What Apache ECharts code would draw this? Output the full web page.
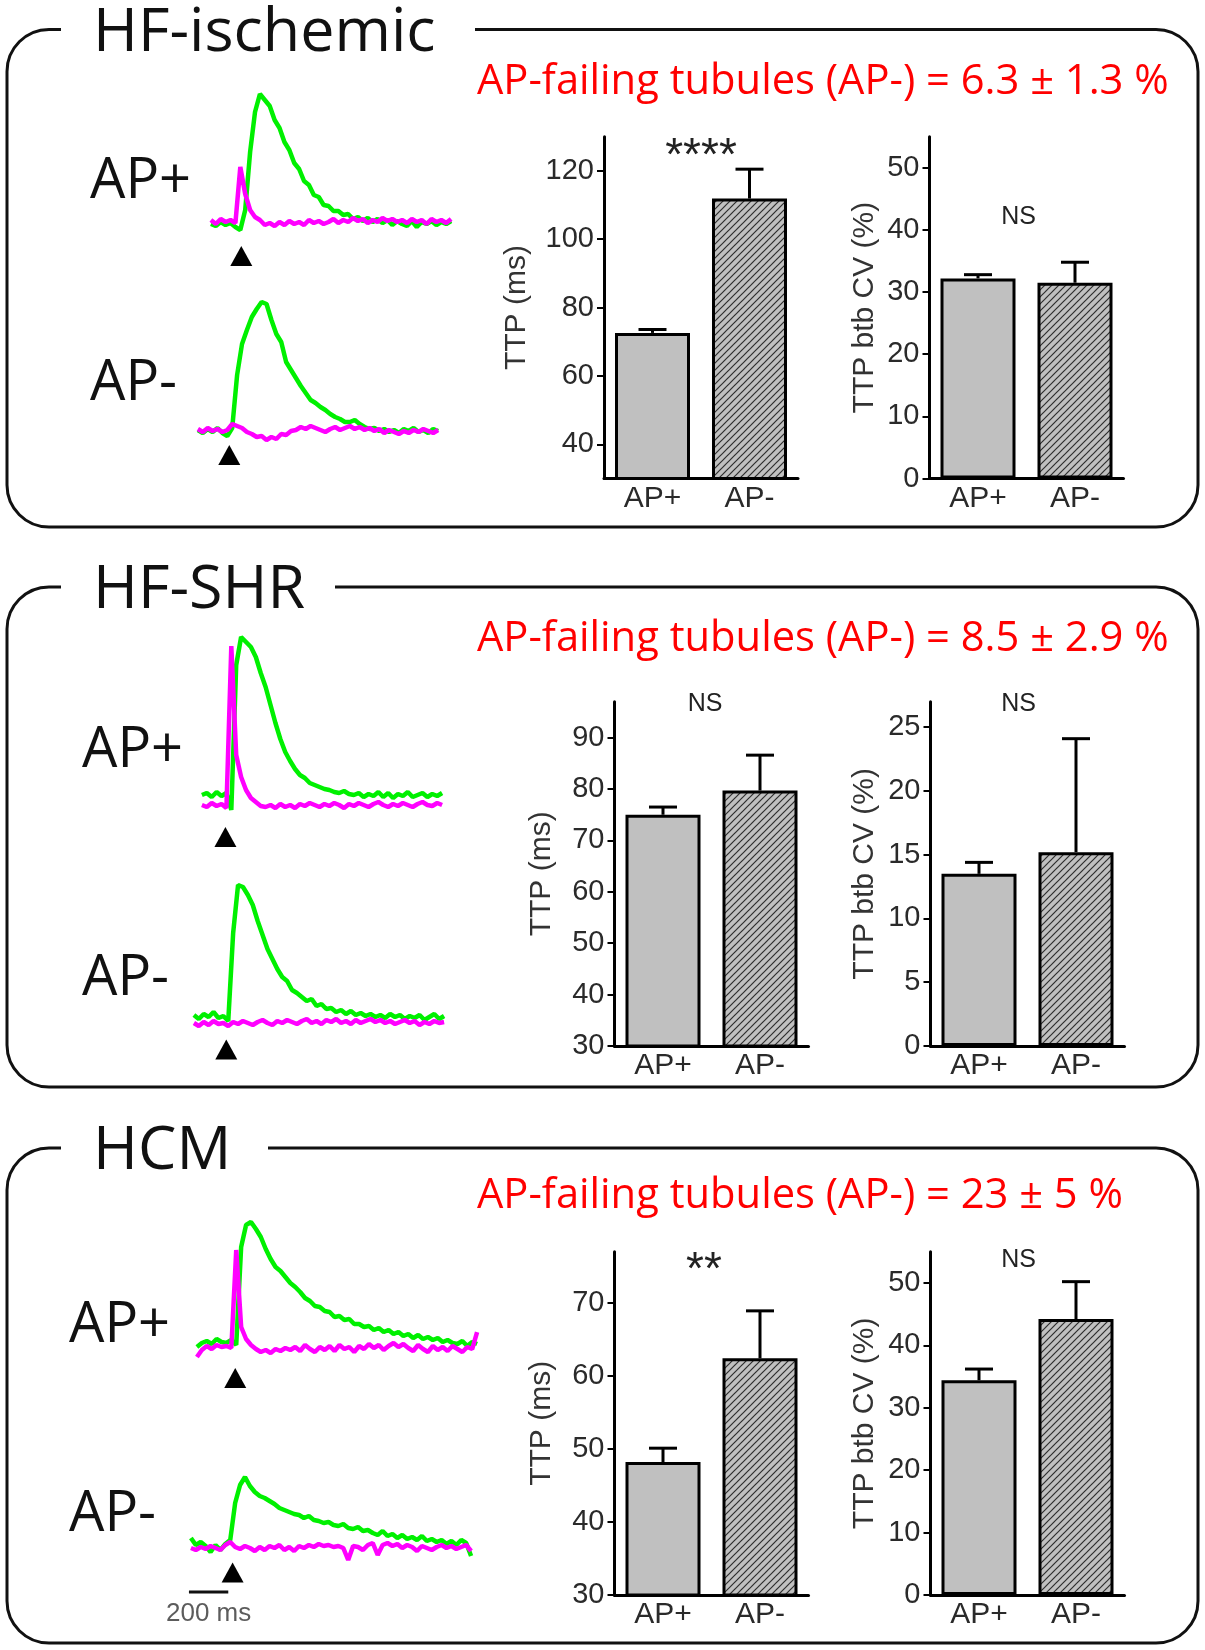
<!DOCTYPE html>
<html><head><meta charset="utf-8">
<script src="https://cdn.jsdelivr.net/npm/echarts@6/dist/echarts.min.js"></script>
<style>html,body{margin:0;padding:0;background:#fff}#c{width:1205px;height:1650px}</style>
</head><body><div id="c"></div>
<script>
// ---------------- DATA ----------------
const categories = ['AP+', 'AP-'];
const panelNames = ['HF-ischemic', 'HF-SHR', 'HCM'];
const failingPct = ['6.3 ± 1.3', '8.5 ± 2.9', '23 ± 5'];

const ttpMean = [[72.6, 111.9], [75.0, 79.7], [48.2, 62.4]];
const ttpSem  = [[1.0, 8.6], [1.5, 6.9], [1.9, 6.5]];
const cvMean  = [[32.2, 31.5], [13.5, 15.2], [34.4, 44.2]];
const cvSem   = [[0.6, 3.3], [0.9, 8.9], [1.8, 6.0]];
const ttpSig  = ['****', 'NS', '**'];
const cvSig   = ['NS', 'NS', 'NS'];

const ttpTicks = [[40, 60, 80, 100, 120], [30, 40, 50, 60, 70, 80, 90], [30, 40, 50, 60, 70]];
const cvTicks  = [[0, 10, 20, 30, 40, 50], [0, 5, 10, 15, 20, 25], [0, 10, 20, 30, 40, 50]];
const ttpRange = [[30, 130], [30, 97], [30, 77]];
const cvRange  = [[0, 55], [0, 27], [0, 55]];

// traces: sampled every 25 ms, amplitude in arbitrary units (0 = AP-signal baseline)
const SAMPLE_MS = 25;
const p1PlusCa = [-2,-4,0,-3,-1,-5,-8,12,70,110, 128,122,116,102,94,80,72,59,53,41, 37,27,25,17,16,11,11,7,8,3, 5,1,4,0,3,-1,2,-3,1,-2, -4,1,-5,0,-2,1,-3,0,-2,1];
const p1PlusAp = [2,-2,3,0,2,-1,55,28,12,5, 2,-3,-1,-4,0,-3,1,-2,0,-3, 2,-1,1,-2,0,3,-1,2,0,4, 1,3,-1,2,0,4,1,3,0,2, -1,3,0,2,-2,3,0,2,-1,3];
const p1MinusCa = [0,-3,1,-2,2,-3,-6,2,55,86, 100,113,121,128,126,110,96,88,68,60, 52,44,37,30,27,23,20,16,13,11, 8,8,10,6,3,1,2,-1,1,-2, 0,-3,1,-1,2,-2,0,-3,1,-1];
const p1MinusAp = [1,-2,2,-1,1,-2,0,6,4,2, -2,-4,-7,-6,-10,-7,-9,-4,-5,-1, 0,3,1,4,2,0,-2,1,3,0, 2,4,1,3,0,2,-1,1,-3,0, -2,-4,-1,-3,0,-2,1,-1,-3,0];
const p2PlusCa = [10,12,8,13,9,12,-5,140,168,163, 158,148,132,118,100,82,66,53,44,36, 30,27,22,20,18,16,15,13,12,14, 11,10,12,8,11,9,13,8,12,7, 11,9,13,8,10,12,8,11,9,12];
const p2PlusAp = [0,-2,2,-1,1,-3,159,50,28,15, 7,3,-1,-2,0,-3,1,-2,0,-3, 1,-1,2,0,-2,1,-1,2,0,-3, 1,-1,2,0,-2,1,3,0,-2,1, -1,2,0,-2,1,3,0,-1,2,0];
const p2MinusCa = [8,4,9,6,11,5,7,2,90,138, 136,128,118,102,88,74,64,54,46,42, 33,30,26,22,24,17,19,14,15,11, 13,9,12,8,10,7,9,6,8,5, 9,6,8,4,7,5,8,3,6,9, 4,7];
const p2MinusAp = [0,-3,1,-2,2,-1,0,-3,1,-1, 2,0,-2,1,3,0,-2,2,0,3, 1,-1,2,4,0,2,-1,3,1,4, 0,2,-1,3,0,2,4,1,3,0, 2,-1,1,3,0,2,-2,1,-1,2, 0,1];
const p3PlusCa = [0,4,6,3,8,5,4,7,2,100, 122,125,118,110,98,88,80,76,70,64, 60,55,49,46,41,40,36,35,30,31, 27,28,23,23,20,21,17,19,15,17, 13,15,11,13,9,12,8,10,7,9, 5,7,4,3,6,1,5,3];
const p3PlusAp = [-10,-3,1,-2,2,0,1,-1,97,20, 8,2,-2,-5,-3,-6,-2,-4,-1,-3, 0,-4,2,-2,-5,0,-3,1,-4,2, -2,0,-5,1,-2,3,-1,2,-3,1, 4,0,3,-1,-4,2,-2,-5,1,-3, 0,-4,1,-2,-5,0,-2,15];
const p3MinusCa = [10,3,6,2,-4,3,-2,4,8,45, 63,71,62,56,52,50,47,44,40,38, 36,34,33,30,32,28,27,25,26,23, 22,24,20,19,21,17,18,15,13,17, 12,14,10,13,9,11,8,12,7,9, 6,8,4,7,3,8,5,-8];
const p3MinusAp = [0,-2,1,-1,2,0,-2,3,6,1, -1,2,0,-3,1,-2,2,0,3,-2, 1,-3,2,0,3,1,4,2,3,1, 2,0,-12,2,1,-2,3,5,-7,3, 5,2,4,0,3,1,-3,2,0,-2, 1,3,0,2,-1,1,3,-3];
const stimMs = [[155, 160], [120, 165], [195, 212]];
const SCALE_BAR_MS = 200;
const scaleBarLabel = '200 ms';

// ---------------- LAYOUT (pixels) ----------------
const FONT_T = '"Open Sans", "Noto Sans", sans-serif';
const FONT_A = '"Liberation Sans", Arial, sans-serif';
const boxes = [
  { T: 29.5, B: 527, gapStart: 61, gapEnd: 475, titleY: 34, redY: 82, bars: 136.7, barsB: 478.5, l1: 604, l2: 929.5, w: 194 },
  { T: 587, B: 1087, gapStart: 61, gapEnd: 335, titleY: 591, redY: 639, bars: 701.7, barsB: 1046, l1: 614.5, l2: 930.5, w: 194 },
  { T: 1148, B: 1643, gapStart: 61, gapEnd: 268, titleY: 1152, redY: 1196, bars: 1251.7, barsB: 1595, l1: 614.5, l2: 930.5, w: 194 }
];
const traceLayout = [
  [{ x0: 211, base: 222, tri: -34 }, { x0: 198, base: 430, tri: -25 }],
  [{ x0: 202, base: 805, tri: -32 }, { x0: 194, base: 1023, tri: -26.5 }],
  [{ x0: 197, base: 1347, tri: -31 }, { x0: 191, base: 1548, tri: -24.5 }]
];
const apLabelPos = [[[90, 182], [90, 384]], [[82, 751], [82, 979]], [[69, 1326], [69, 1515]]];
const sigPos = [[[701, 157, 46], [1018.5, 217, 25]], [[705, 704, 25], [1018.5, 704, 25]], [[704, 1271, 46], [1018.5, 1260, 25]]];
const nameCenter1 = [517, 542, 542];
const nameCenter2 = [865, 865, 865];
const PX_PER_MS = 0.2;
const Y_LO = -90, Y_HI = 180;

const traces = [
  [[p1PlusCa, p1PlusAp], [p1MinusCa, p1MinusAp]],
  [[p2PlusCa, p2PlusAp], [p2MinusCa, p2MinusAp]],
  [[p3PlusCa, p3PlusAp], [p3MinusCa, p3MinusAp]]
];

// hatch pattern
const hatch = (() => {
  const s = 7, c = document.createElement('canvas');
  c.width = s; c.height = s;
  const g = c.getContext('2d');
  g.fillStyle = '#c0c0c0'; g.fillRect(0, 0, s, s);
  g.strokeStyle = '#2e2e2e'; g.lineWidth = 1.2;
  [[-1, s + 1, s + 1, -1], [-1, 1, 1, -1], [s - 1, s + 1, s + 1, s - 1]].forEach(p => {
    g.beginPath(); g.moveTo(p[0], p[1]); g.lineTo(p[2], p[3]); g.stroke();
  });
  return { image: c, repeat: 'repeat' };
})();

const grid = [], xAxis = [], yAxis = [], series = [], graphic = [];

// trace grids
traces.forEach((panel, pi) => {
  panel.forEach((pair, ti) => {
    const L = traceLayout[pi][ti];
    const n = pair[0].length;
    const gi = grid.length;
    grid.push({ left: L.x0 - 25 * PX_PER_MS, top: L.base - Y_HI, width: (n * SAMPLE_MS) * PX_PER_MS, height: Y_HI - Y_LO });
    xAxis.push({ gridIndex: gi, type: 'value', min: -SAMPLE_MS, max: (n - 1) * SAMPLE_MS + SAMPLE_MS, show: false });
    yAxis.push({ gridIndex: gi, type: 'value', min: Y_LO, max: Y_HI, show: false });
    series.push({ type: 'line', xAxisIndex: gi, yAxisIndex: gi, data: pair[0].map((v, i) => [i * SAMPLE_MS, v]),
      showSymbol: false, lineStyle: { color: '#00f000', width: 4.5 }, silent: true, z: 2 });
    series.push({ type: 'line', xAxisIndex: gi, yAxisIndex: gi, data: pair[1].map((v, i) => [i * SAMPLE_MS, v]),
      showSymbol: false, lineStyle: { color: '#ff00ff', width: 4.5 }, silent: true, z: 3 });
    series.push({ type: 'scatter', xAxisIndex: gi, yAxisIndex: gi, data: [[stimMs[pi][ti], L.tri]],
      symbol: 'triangle', symbolSize: [22, 20], itemStyle: { color: '#000', opacity: 1 }, silent: true, z: 4 });
    if (pi === 2 && ti === 1) {
      series.push({ type: 'line', xAxisIndex: gi, yAxisIndex: gi, data: [[-10, -44], [-10 + SCALE_BAR_MS, -44]],
        showSymbol: false, lineStyle: { color: '#111', width: 3 }, silent: true });
      series.push({ type: 'scatter', xAxisIndex: gi, yAxisIndex: gi, data: [[-10 + SCALE_BAR_MS / 2, -66]],
        symbolSize: 2, itemStyle: { color: 'rgba(255,255,255,0)' }, silent: true,
        label: { show: true, position: 'inside', formatter: scaleBarLabel, fontSize: 26, color: '#333', fontFamily: FONT_A } });
    }
  });
});

// bar grids
function addBar(pi, which) {
  const bx = boxes[pi];
  const left = which === 0 ? bx.l1 : bx.l2;
  const mean = which === 0 ? ttpMean[pi] : cvMean[pi];
  const sem = which === 0 ? ttpSem[pi] : cvSem[pi];
  const ticks = which === 0 ? ttpTicks[pi] : cvTicks[pi];
  const range = which === 0 ? ttpRange[pi] : cvRange[pi];
  const name = which === 0 ? 'TTP (ms)' : 'TTP btb CV (%)';
  const nameGap = (which === 0 ? left - nameCenter1[pi] : left - nameCenter2[pi]) - 15;
  const gi = grid.length;
  grid.push({ left: left, top: bx.bars, width: bx.w, height: bx.barsB - bx.bars });
  xAxis.push({ gridIndex: gi, type: 'category', data: categories, z: 5,
    axisLine: { show: true, lineStyle: { color: '#000', width: 3 } }, axisTick: { show: false },
    axisLabel: { fontSize: 30, color: '#2a2a2a', fontFamily: FONT_A, margin: 5 } });
  yAxis.push({ gridIndex: gi, type: 'value', min: range[0], max: range[1], z: 5,
    axisLine: { show: true, lineStyle: { color: '#000', width: 3 } },
    axisTick: { show: true, length: 7, lineStyle: { color: '#000', width: 2 }, customValues: ticks },
    axisLabel: { fontSize: 29, color: '#2a2a2a', fontFamily: FONT_A, margin: 10, customValues: ticks },
    splitLine: { show: false },
    name: name, nameLocation: 'middle', nameGap: nameGap,
    nameTextStyle: { fontSize: 30, color: '#333', fontFamily: FONT_A } });
  series.push({ type: 'bar', xAxisIndex: gi, yAxisIndex: gi, barWidth: 75, clip: true, silent: true,
    data: mean.map((v, i) => ({ value: v, itemStyle: { color: i === 0 ? '#c0c0c0' : hatch, borderColor: '#000', borderWidth: 3 } })),
    z: 2 });
  series.push({ type: 'custom', xAxisIndex: gi, yAxisIndex: gi, silent: true, z: 3,
    data: mean.map((v, i) => [i, v, sem[i]]),
    renderItem: (params, api) => {
      const p0 = api.coord([api.value(0), api.value(1)]);
      const p1 = api.coord([api.value(0), api.value(1) + api.value(2)]);
      const st = { stroke: '#000', lineWidth: 3 };
      return { type: 'group', children: [
        { type: 'line', shape: { x1: p0[0], y1: p0[1], x2: p1[0], y2: p1[1] }, style: st },
        { type: 'line', shape: { x1: p1[0] - 14, y1: p1[1], x2: p1[0] + 14, y2: p1[1] }, style: st }
      ] };
    } });
}
for (let pi = 0; pi < 3; pi++) { addBar(pi, 0); addBar(pi, 1); }

// rounded frames drawn by a custom series without coordinate system
const framePaths = boxes.map(bx => {
  const Lx = 7, Rx = 1198, r = 42, T = bx.T, B = bx.B;
  return `M ${bx.gapStart} ${T} L ${Lx + r} ${T} A ${r} ${r} 0 0 0 ${Lx} ${T + r} L ${Lx} ${B - r} A ${r} ${r} 0 0 0 ${Lx + r} ${B} L ${Rx - r} ${B} A ${r} ${r} 0 0 0 ${Rx} ${B - r} L ${Rx} ${T + r} A ${r} ${r} 0 0 0 ${Rx - r} ${T} L ${bx.gapEnd} ${T}`;
});
series.push({ type: 'custom', coordinateSystem: 'none', silent: true, z: 1,
  data: framePaths.map((p, i) => [i]),
  renderItem: (params, api) => ({ type: 'path', shape: { pathData: framePaths[params.dataIndex] },
    style: { stroke: '#111', lineWidth: 3, fill: 'none' } }) });

boxes.forEach((bx, pi) => {
  graphic.push({ type: 'text', x: 93, y: bx.titleY, silent: true,
    style: { text: panelNames[pi], fill: '#111', font: '61px ' + FONT_T, textAlign: 'left', textVerticalAlign: 'middle' } });
  graphic.push({ type: 'text', x: 477, y: bx.redY, silent: true,
    style: { text: 'AP-failing tubules (AP-) = ' + failingPct[pi] + ' %', fill: '#ff0000', font: '41.7px ' + FONT_T, textAlign: 'left', textVerticalAlign: 'middle' } });
  categories.forEach((c, ci) => {
    const p = apLabelPos[pi][ci];
    graphic.push({ type: 'text', x: p[0], y: p[1], silent: true,
      style: { text: c, fill: '#111', font: '56px ' + FONT_T, textAlign: 'left', textVerticalAlign: 'middle' } });
  });
  [ttpSig[pi], cvSig[pi]].forEach((s, si) => {
    const p = sigPos[pi][si];
    graphic.push({ type: 'text', x: p[0], y: p[1], silent: true,
      style: { text: s, fill: '#222', font: p[2] + 'px ' + FONT_A, textAlign: 'center', textVerticalAlign: 'middle' } });
  });
});

const chart = echarts.init(document.getElementById('c'), null, { renderer: 'canvas' });
chart.setOption({ animation: false, backgroundColor: '#fff', grid, xAxis, yAxis, series, graphic });
</script></body></html>
